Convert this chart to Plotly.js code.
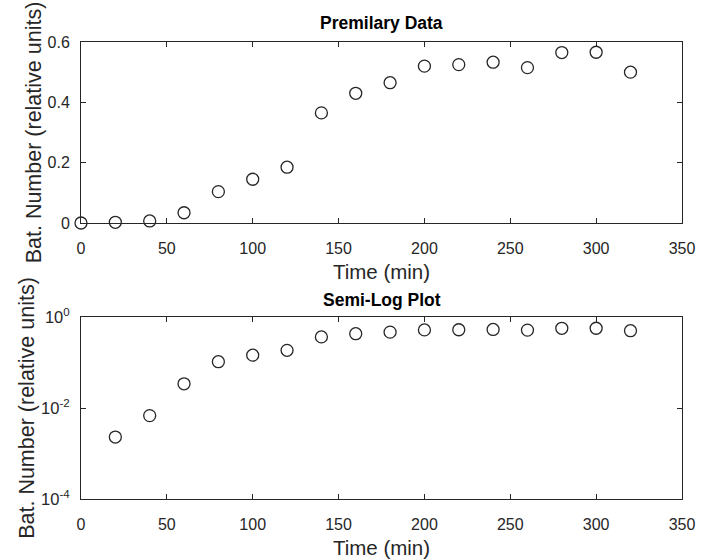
<!DOCTYPE html>
<html>
<head>
<meta charset="utf-8">
<script src="https://cdn.plot.ly/plotly-3.0.1.min.js"></script>
<style>html,body{margin:0;padding:0;background:#fff;}#chart{width:701px;height:560px;}</style>
</head>
<body>
<div id="chart"></div>
<script>
var timeMin = [0, 20, 40, 60, 80, 100, 120, 140, 160, 180, 200, 220, 240, 260, 280, 300, 320];
var batNumber = [0, 0.0023, 0.0068, 0.034, 0.104, 0.145, 0.185, 0.365, 0.43, 0.465, 0.52, 0.525, 0.533, 0.515, 0.565, 0.566, 0.5];
var linTickVals = [0, 0.2, 0.4, 0.6];
var linTickText = ['0', '0.2', '0.4', '0.6'];
var logTickVals = [1e-4, 1e-2, 1];
var logTickText = ['10<sup>-4</sup>', '10<sup>-2</sup>', '10<sup>0</sup>'];
var xTickVals = [0, 50, 100, 150, 200, 250, 300, 350];

var ink = '#262626';
var font = 'Liberation Sans, Arial, Helvetica, sans-serif';
var marker = {symbol: 'circle-open', size: 12, color: ink, line: {width: 1.3, color: ink}};

var traces = [
  {x: timeMin, y: batNumber, type: 'scatter', mode: 'markers', marker: marker, xaxis: 'x', yaxis: 'y', cliponaxis: false, hoverinfo: 'x+y'},
  {x: timeMin, y: batNumber, type: 'scatter', mode: 'markers', marker: marker, xaxis: 'x2', yaxis: 'y2', cliponaxis: false, hoverinfo: 'x+y'}
];

function xAxis(anchor) {
  return {
    anchor: anchor, domain: [0, 1], range: [0, 350], tickmode: 'array', tickvals: xTickVals,
    ticks: 'inside', ticklen: 5, tickwidth: 1, tickcolor: ink, showline: true, linecolor: ink, linewidth: 1,
    mirror: 'ticks', showgrid: false, zeroline: false, ticklabelstandoff: 11,
    tickfont: {family: font, size: 16, color: ink},
    title: {text: 'Time (min)', font: {family: font, size: 20.5, color: ink}, standoff: 8},
    automargin: false
  };
}
function yAxis(anchor, dom, extra, tsize) {
  var a = {
    anchor: anchor, domain: dom, tickmode: 'array',
    ticks: 'inside', ticklen: 5, tickwidth: 1, tickcolor: ink, showline: true, linecolor: ink, linewidth: 1,
    mirror: 'ticks', showgrid: false, zeroline: false, ticklabelstandoff: 7,
    tickfont: {family: font, size: tsize, color: ink},
    title: {text: 'Bat. Number (relative units)', font: {family: font, size: 21.5, color: ink}, standoff: 0},
    automargin: false
  };
  for (var k in extra) a[k] = extra[k];
  return a;
}

var layout = {
  width: 701, height: 560,
  margin: {l: 81, r: 19, t: 0, b: 0},
  paper_bgcolor: '#ffffff', plot_bgcolor: '#ffffff',
  showlegend: false,
  xaxis: xAxis('y'),
  yaxis: yAxis('x', [1 - 223/560, 1 - 42/560], {range: [0, 0.6], tickvals: linTickVals, ticktext: linTickText}, 16),
  xaxis2: xAxis('y2'),
  yaxis2: yAxis('x2', [1 - 499/560, 1 - 317/560], {type: 'log', range: [-4, 0], tickvals: logTickVals, ticktext: logTickText}, 16.5),
  annotations: [
    {text: '<b>Premilary Data</b>', xref: 'paper', yref: 'paper', x: 0.5, y: 1 - 23.5/560, xanchor: 'center', yanchor: 'middle', showarrow: false, font: {family: font, size: 17.5, color: '#000'}},
    {text: '<b>Semi-Log Plot</b>', xref: 'paper', yref: 'paper', x: 0.5, y: 1 - 300/560, xanchor: 'center', yanchor: 'middle', showarrow: false, font: {family: font, size: 17.5, color: '#000'}}
  ]
};

Plotly.newPlot('chart', traces, layout, {displayModeBar: false, staticPlot: true});
</script>
</body>
</html>
